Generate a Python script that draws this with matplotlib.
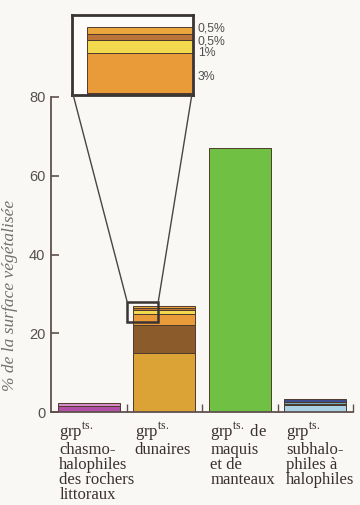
import numpy as np
import matplotlib.pyplot as plt
from matplotlib.patches import Rectangle, ConnectionPatch
from matplotlib.transforms import blended_transform_factory

plt.rcParams['font.family'] = ['Liberation Sans', 'DejaVu Sans']
plt.rcParams['mathtext.fontset'] = 'custom'
plt.rcParams['mathtext.rm'] = 'Liberation Serif'

# -------------------------------------------------
# Données
# -------------------------------------------------
categories = [
    "gr$\\mathrm{p}^{\\mathrm{ts.}}$\nchasmo-\nhalophiles\ndes rochers\nlittoraux",
    "gr$\\mathrm{p}^{\\mathrm{ts.}}$\ndunaires",
    "gr$\\mathrm{p}^{\\mathrm{ts.}}$ de\nmaquis\net de\nmanteaux",
    "gr$\\mathrm{p}^{\\mathrm{ts.}}$\nsubhalo-\nphiles à\nhalophiles",
]
chasmo = [1.6, 0.7]
dunaires = [15, 7, 3, 1, 0.5, 0.5]
maquis = [67]
subhalo = [1.8, 0.3, 0.5, 0.7]

chasmo_col = ['#b24fa6', '#d68cc6']
dunaires_col = ['#dba236', '#8c5b2c', '#e99b3a', '#f3d94e', '#bb7538', '#eaa63c']
maquis_col = ['#6fc043']
subhalo_col = ['#a9d3e4', '#3f5f8c', '#6fb0bf', '#3e4d8e']

inset_labels = ['3%', '1%', '0,5%', '0,5%']
inset_label_y = [23.2, 25.02, 25.93, 26.86]

yticks = [0, 20, 40, 60, 80]

bars = [chasmo, dunaires, maquis, subhalo]
colors = [chasmo_col, dunaires_col, maquis_col, subhalo_col]

bg = '#faf8f4'
dark = '#3a3434'
axc = '#5e5050'
W = 0.82


def draw_stack(ax, x, vals, cols):
    bottom = 0
    for v, c in zip(vals, cols):
        ax.bar(x, v, W, bottom=bottom, color=c, edgecolor='#4e3a2c',
               linewidth=0.7)
        bottom += v


fig = plt.figure(figsize=(3.6, 5.05), dpi=100, facecolor=bg)
ax = fig.add_axes([51/360, 1 - 412/505, 302/360, (412 - 97)/505])
ax.set_facecolor(bg)

for i, (vals, cols) in enumerate(zip(bars, colors)):
    draw_stack(ax, i, vals, cols)

ax.set_xlim(-0.5, 3.5)
ax.set_ylim(0, 80)
ax.set_yticks(yticks)
ax.set_xticks([])
ax.set_xticks([0.5, 1.5, 2.5, 3.5], minor=True)
ax.tick_params(axis='x', which='minor', direction='in', length=6,
               color=axc, width=1)
ax.tick_params(axis='y', direction='in', length=6, color=axc, width=1.2,
               labelsize=10.5, labelcolor='#555050', pad=4)
for s in ['top', 'right']:
    ax.spines[s].set_visible(False)
for s in ['left', 'bottom']:
    ax.spines[s].set_color(axc)
    ax.spines[s].set_linewidth(1.3)

ax.set_ylabel('% de la surface végétalisée', family='Liberation Serif',
              style='italic', fontsize=12.5, color='#707070')
ax.yaxis.set_label_coords(-0.11, 0.37)

tr = blended_transform_factory(ax.transData, ax.transAxes)
for i, lab in enumerate(categories):
    ax.text(i - W/2 + 0.02, -0.025, lab, transform=tr, ha='left', va='top',
            family='Liberation Serif', fontsize=12, color='#3a3030',
            linespacing=0.92)

# petit cadre de zoom sur la barre des dunaires
zx0, zx1, zy0, zy1 = 0.51, 0.92, 22.8, 27.9
ax.add_patch(Rectangle((zx0, zy0), zx1 - zx0, zy1 - zy0, fill=False,
                       edgecolor=dark, linewidth=1.8, zorder=5))

# -------------------------------------------------
# Encart (agrandissement)
# -------------------------------------------------
ins = fig.add_axes([72/360, 1 - 95/505, 121/360, 80/505])
ins.set_facecolor('#fdfcfa')
draw_stack(ins, 1, dunaires, dunaires_col)
ins.set_xlim(0.5, 1.22)
ins.set_ylim(21.85, 27.9)
ins.set_xticks([])
ins.set_yticks([])
for s in ins.spines.values():
    s.set_color(dark)
    s.set_linewidth(2)

itr = blended_transform_factory(ins.transAxes, ins.transData)
for lab, y in zip(inset_labels, inset_label_y):
    ins.text(1.04, y, lab, transform=itr, ha='left', va='center',
             fontsize=8.8, color='#505050')

for (xa, xd) in [(0.01, zx0), (0.99, zx1)]:
    con = ConnectionPatch(xyA=(xa, 0), coordsA=ins.transAxes,
                          xyB=(xd, zy1), coordsB=ax.transData,
                          color='#4a4444', linewidth=1)
    fig.add_artist(con)

fig.savefig('out.png', dpi=100, facecolor=bg)
